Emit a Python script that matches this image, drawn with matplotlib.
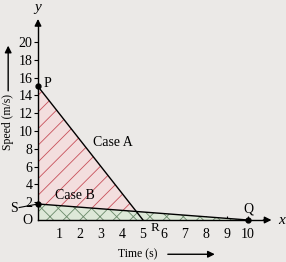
import numpy as np
import matplotlib.pyplot as plt

# case A: P (0,15) -> R (5,0) ; case B: S (0,1.8) -> Q (10,0)
caseA_t = [0, 5]
caseA_v = [15, 0]
caseB_t = [0, 10]
caseB_v = [1.8, 0]
xticks = [1, 2, 3, 4, 5, 6, 7, 8, 9, 10]
yticks = [2, 4, 6, 8, 10, 12, 14, 16, 18, 20]

bg = '#ebe9e7'
plt.rcParams['font.family'] = ['Liberation Serif', 'DejaVu Serif']
plt.rcParams['hatch.linewidth'] = 0.6

fig = plt.figure(figsize=(2.86, 2.62), dpi=100, facecolor=bg)
ax = fig.add_axes([0, 0, 1, 1], facecolor=bg)
ax.set_xlim(-38 / 21, 248 / 21)
ax.set_ylim(-42 / 8.9, 220 / 8.9)

# shaded areas
ax.fill_between(caseA_t, caseA_v, 0, facecolor='#f3dede', edgecolor='#c8505a',
                hatch='//', linewidth=0, zorder=1)
ax.fill_between(caseB_t, caseB_v, 0, facecolor='#dde8d8', edgecolor='#6a8a6a',
                hatch='xx', linewidth=0, zorder=2)
ax.plot(caseA_t, caseA_v, color='black', lw=1.0, zorder=3)
ax.plot(caseB_t, caseB_v, color='black', lw=1.0, zorder=3)
ax.plot([caseA_t[0], caseB_t[0], caseB_t[1]], [caseA_v[0], caseB_v[0], caseB_v[1]],
        'o', color='black', ms=3.5, zorder=4)

# axes through origin
for s in ['top', 'right']:
    ax.spines[s].set_visible(False)
ax.spines['left'].set_position(('data', 0))
ax.spines['bottom'].set_position(('data', 0))
ax.spines['left'].set_bounds(0, 22)
ax.spines['bottom'].set_bounds(0, 10.8)
ax.spines['left'].set_linewidth(1.0)
ax.spines['bottom'].set_linewidth(1.0)
ax.annotate('', xy=(0, 22.9), xytext=(0, 21.5),
            arrowprops=dict(arrowstyle='-|>', color='black', lw=1.0, mutation_scale=10))
ax.annotate('', xy=(11.25, 0), xytext=(10.6, 0),
            arrowprops=dict(arrowstyle='-|>', color='black', lw=1.0, mutation_scale=10))

ax.set_xticks(xticks)
ax.set_yticks(yticks)
ax.tick_params(axis='x', direction='in', length=3, width=0.8, pad=6, labelsize=10)
ax.tick_params(axis='y', direction='out', length=3, width=0.8, pad=1, labelsize=10)

ax.text(11.6, 0, 'x', fontsize=11, style='italic', va='center', ha='center')
ax.text(0, 23.9, 'y', fontsize=11, style='italic', va='center', ha='center')
ax.text(-0.25, -0.1, 'O', fontsize=10, va='center', ha='right')
ax.text(0.25, 15.3, 'P', fontsize=10, va='center', ha='left')
ax.text(-0.95, 1.3, 'S', fontsize=10, va='center', ha='right')
ax.plot([-0.9, 0], [1.4, 1.8], color='black', lw=0.8)
ax.text(5.55, -0.9, 'R', fontsize=9.5, va='center', ha='center')
ax.text(10, 1.2, 'Q', fontsize=10, va='center', ha='center')
ax.text(2.6, 8.7, 'Case A', fontsize=10, va='center', ha='left')
ax.text(0.8, 2.8, 'Case B', fontsize=10, va='center', ha='left')

ax.text(3.8, -3.85, 'Time (s)', fontsize=8.5, va='center', ha='left')
ax.annotate('', xy=(8.55, -3.85), xytext=(6.05, -3.85),
            arrowprops=dict(arrowstyle='-|>', color='black', lw=1.0, mutation_scale=10))
ax.text(-1.42, 11.0, 'Speed (m/s)', fontsize=8.5, rotation=90, va='center', ha='center')
ax.annotate('', xy=(-1.42, 19.9), xytext=(-1.42, 14.2),
            arrowprops=dict(arrowstyle='-|>', color='black', lw=1.0, mutation_scale=10))

fig.savefig('out.png', dpi=100, facecolor=bg)
